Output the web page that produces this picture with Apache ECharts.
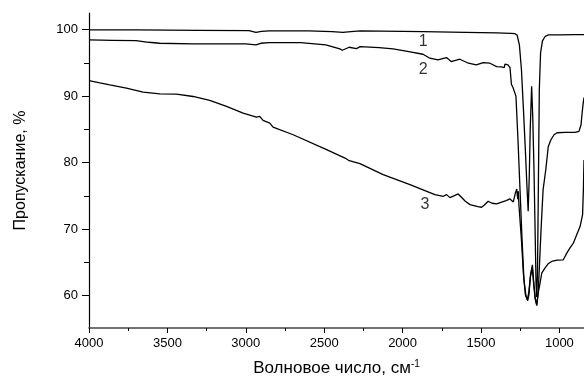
<!DOCTYPE html>
<html>
<head>
<meta charset="utf-8">
<script src="https://cdn.jsdelivr.net/npm/echarts@6/dist/echarts.min.js"></script>
<style>
  html, body { margin: 0; padding: 0; background: #fff; }
  #chart { width: 584px; height: 383px; }
</style>
</head>
<body>
<div id="chart"></div>
<script>
// IR transmission spectra of three samples

const curve1Wn = [4000, 3700, 3300, 2980, 2935, 2900, 2850, 2600, 2450, 2380, 2330, 2270, 2000, 1870, 1600, 1400, 1310, 1285, 1270, 1255, 1242, 1229, 1217, 1206, 1199, 1192, 1186, 1177, 1170, 1162, 1155, 1149, 1145, 1140, 1135, 1128, 1120, 1108, 1090, 1070, 1000, 900, 843];
const curve1T  = [99.95, 99.95, 99.9, 99.85, 99.6, 99.75, 99.8, 99.8, 99.7, 99.6, 99.7, 99.8, 99.75, 99.7, 99.6, 99.5, 99.45, 99.4, 99.2, 97.7, 94, 87.9, 81.9, 76, 72.7, 78, 85, 91.5, 87, 79, 70, 62, 59.8, 63, 74, 91, 96.5, 98.3, 99, 99.2, 99.2, 99.25, 99.25];

const curve2Wn = [4000, 3850, 3700, 3620, 3550, 3340, 3000, 2935, 2905, 2850, 2650, 2490, 2400, 2385, 2340, 2295, 2270, 2150, 2060, 1960, 1870, 1826, 1775, 1720, 1690, 1635, 1580, 1530, 1486, 1443, 1400, 1370, 1352, 1347, 1328, 1315, 1306, 1296, 1290, 1284, 1277, 1264, 1251, 1238, 1226, 1213, 1202, 1194, 1184, 1172, 1165, 1155, 1144, 1136, 1127, 1117, 1104, 1087, 1071, 1054, 1034, 1015, 964, 900, 875, 862, 856, 849, 843];
const curve2T  = [98.45, 98.4, 98.35, 98.1, 97.95, 97.85, 97.85, 97.7, 97.95, 98.05, 98.05, 97.7, 97.1, 96.9, 97.35, 97.15, 97.45, 97.3, 97.1, 96.7, 96.3, 95.7, 95.45, 95.8, 95.2, 95.55, 94.95, 94.7, 95.05, 94.95, 94.45, 94.4, 94.3, 94.8, 94.7, 94.3, 91.8, 91.3, 91.6, 91.1, 90, 83.4, 75.9, 68.4, 62.4, 60, 59.25, 60.2, 63.2, 64.65, 62.4, 59.7, 58.5, 60.2, 64.6, 69.9, 75.9, 78.9, 82.4, 83.45, 84.2, 84.5, 84.55, 84.55, 84.7, 85.7, 87.2, 88.8, 89.8];

const curve3Wn = [4000, 3930, 3868, 3761, 3655, 3549, 3442, 3336, 3230, 3123, 3017, 2932, 2911, 2890, 2847, 2826, 2698, 2485, 2360, 2350, 2340, 2272, 2124, 1953, 1794, 1741, 1719, 1698, 1645, 1600, 1570, 1520, 1496, 1480, 1454, 1430, 1400, 1340, 1315, 1294, 1280, 1272, 1266, 1262, 1258, 1242, 1229, 1217, 1204, 1195, 1185, 1173, 1164, 1154, 1145, 1136, 1123, 1112, 1091, 1072, 1049, 1015, 975, 953, 932, 911, 889, 868, 852, 847, 843];
const curve3T  = [92.35, 92.0, 91.7, 91.2, 90.6, 90.35, 90.3, 89.95, 89.35, 88.45, 87.45, 86.85, 86.95, 86.35, 85.95, 85.35, 84.2, 81.95, 80.6, 80.9, 80.3, 79.85, 78.2, 76.7, 75.2, 74.95, 75.2, 74.75, 75.3, 74.2, 73.7, 73.4, 73.3, 73.6, 74.2, 73.9, 73.8, 74.3, 74.55, 74.1, 75.5, 76.05, 74.5, 75.7, 73.65, 68.4, 63.15, 60.15, 59.4, 60.5, 62.8, 64.2, 61.8, 59.5, 58.65, 60.3, 61.95, 63.45, 64.2, 64.8, 65.15, 65.35, 65.4, 66.4, 67.2, 67.9, 69.2, 70.4, 72.2, 75.9, 80.4];

// curve numbers written next to each spectrum
const tagNames = ['1', '2', '3'];
const tagWn    = [1868, 1868, 1858];
const tagT     = [98.2, 93.95, 73.7];

// axis ranges and tick positions
const xMin = 843, xMax = 4000;
const yMin = 55.15, yMax = 102.5;
const xMajor = [4000, 3500, 3000, 2500, 2000, 1500, 1000];
const xMinor = [3750, 3250, 2750, 2250, 1750, 1250];
const yMajor = [60, 70, 80, 90, 100];
const yMinor = [65, 75, 85, 95];

const pairs = (xs, ys) => xs.map((x, i) => [x, ys[i]]);
const font = 'Liberation Sans, Arial, sans-serif';
const plain = (v) => String(Math.round(v));

const lineSeries = (data) => ({
  type: 'line',
  data: data,
  xAxisIndex: 0,
  yAxisIndex: 0,
  showSymbol: false,
  symbol: 'none',
  lineStyle: { color: '#000', width: 1.3 },
  z: 3
});

const chart = echarts.init(document.getElementById('chart'), null, { renderer: 'canvas' });

chart.setOption({
  animation: false,
  backgroundColor: '#fff',
  grid: { left: 89, right: 0, top: 13, bottom: 55, containLabel: false },
  xAxis: [
    {
      type: 'value', position: 'bottom', inverse: true, min: xMin, max: xMax,
      axisLine: { show: true, lineStyle: { color: '#444', width: 1.6 } },
      axisTick: { show: true, customValues: xMajor, length: 5, lineStyle: { color: '#000' } },
      axisLabel: { show: true, customValues: xMajor, formatter: plain, color: '#000', fontSize: 13, fontFamily: font, margin: 9 },
      splitLine: { show: false },
      name: 'Волновое число, см{sup|-1}',
      nameLocation: 'middle',
      nameGap: 31,
      nameTextStyle: {
        color: '#000', fontSize: 17, fontFamily: font,
        rich: { sup: { fontSize: 10, fontFamily: font, color: '#000', verticalAlign: 'bottom', padding: [0, 0, 9, 0] } }
      }
    },
    {
      type: 'value', position: 'bottom', inverse: true, min: xMin, max: xMax,
      axisLine: { show: false },
      axisTick: { show: true, customValues: xMinor, length: 3, lineStyle: { color: '#000' } },
      axisLabel: { show: false },
      splitLine: { show: false }
    }
  ],
  yAxis: [
    {
      type: 'value', position: 'left', min: yMin, max: yMax,
      axisLine: { show: true, lineStyle: { color: '#000', width: 1.2 } },
      axisTick: { show: true, customValues: yMajor, length: 7, lineStyle: { color: '#000' } },
      axisLabel: { show: true, customValues: yMajor, formatter: plain, color: '#000', fontSize: 13, fontFamily: font, margin: 11 },
      splitLine: { show: false },
      name: 'Пропускание, %',
      nameLocation: 'middle',
      nameGap: 60,
      nameTextStyle: { color: '#000', fontSize: 16, fontFamily: font }
    },
    {
      type: 'value', position: 'left', min: yMin, max: yMax,
      axisLine: { show: false },
      axisTick: { show: true, customValues: yMinor, length: 5, lineStyle: { color: '#000' } },
      axisLabel: { show: false },
      splitLine: { show: false }
    }
  ],
  series: [
    lineSeries(pairs(curve1Wn, curve1T)),
    lineSeries(pairs(curve2Wn, curve2T)),
    lineSeries(pairs(curve3Wn, curve3T)),
    {
      type: 'scatter',
      xAxisIndex: 0,
      yAxisIndex: 0,
      symbolSize: 0,
      data: tagNames.map((n, i) => ({ name: n, value: [tagWn[i], tagT[i]] })),
      label: {
        show: true, position: 'inside', formatter: '{b}',
        color: '#000', fontSize: 16, fontFamily: font
      },
      z: 5
    }
  ]
});
</script>
</body>
</html>
